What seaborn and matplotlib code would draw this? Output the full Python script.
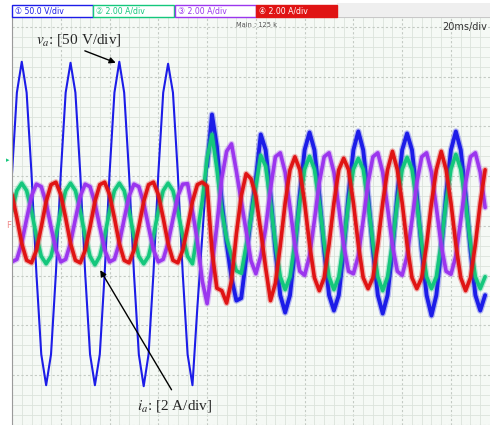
import numpy as np
import pandas as pd
import matplotlib
matplotlib.use("Agg")
import matplotlib.pyplot as plt
import seaborn as sns
from matplotlib.patches import Rectangle

# scope capture: 20 ms/div, one reading every 2 ms, values in divisions
t_ms = list(range(0, 196, 2))

# ch1 v_a (50 V/div)
v_a = [
    1.05, 2.68, 3.30, 2.68, 1.05, -0.95, -2.58, -3.20, -2.58, -0.95,
    1.05, 2.68, 3.28, 2.68, 1.05, -0.95, -2.58, -3.20, -2.58, -0.95,
    1.05, 2.68, 3.30, 2.68, 1.05, -0.95, -2.58, -3.22, -2.58, -0.95,
    1.05, 2.68, 3.26, 2.68, 1.05, -0.95, -2.58, -3.20, -1.64, -0.22,
    1.20, 2.24, 1.60, 0.50, -0.35, -1.04, -1.50, -1.45, -0.65, 0.20,
    0.95, 1.84, 1.53, 0.63, -0.49, -1.39, -1.74, -1.39, -0.49, 0.63,
    1.53, 1.88, 1.53, 0.63, -0.49, -1.39, -1.70, -1.39, -0.49, 0.63,
    1.53, 1.90, 1.53, 0.63, -0.49, -1.39, -1.76, -1.39, -0.49, 0.63,
    1.53, 1.86, 1.53, 0.63, -0.49, -1.39, -1.80, -1.39, -0.49, 0.63,
    1.53, 1.90, 1.53, 0.63, -0.49, -1.39, -1.70, -1.39,
]
# ch2 i_a (2 A/div)
i_a = [
    0.30, 0.71, 0.86, 0.71, 0.30, -0.20, -0.61, -0.76, -0.61, -0.20,
    0.30, 0.71, 0.86, 0.71, 0.30, -0.20, -0.61, -0.78, -0.61, -0.20,
    0.30, 0.71, 0.86, 0.71, 0.30, -0.20, -0.61, -0.76, -0.61, -0.20,
    0.30, 0.71, 0.86, 0.71, 0.30, -0.20, -0.61, -0.76, -0.16, 0.50,
    1.36, 1.84, 1.15, 0.30, -0.25, -0.60, -0.90, -0.95, -0.40, 0.16,
    0.80, 1.42, 1.20, 0.47, -0.35, -1.02, -1.28, -1.02, -0.35, 0.47,
    1.14, 1.40, 1.14, 0.47, -0.35, -1.02, -1.28, -1.02, -0.35, 0.47,
    1.14, 1.36, 1.14, 0.47, -0.35, -1.02, -1.30, -1.02, -0.35, 0.47,
    1.14, 1.38, 1.14, 0.47, -0.35, -1.02, -1.26, -1.02, -0.35, 0.47,
    1.14, 1.44, 1.14, 0.47, -0.35, -1.02, -1.26, -1.02,
]
# ch3 i_b
i_b = [
    -0.72, -0.67, -0.34, 0.14, 0.60, 0.84, 0.79, 0.46, -0.02, -0.48,
    -0.72, -0.67, -0.34, 0.14, 0.60, 0.84, 0.79, 0.46, -0.02, -0.48,
    -0.72, -0.67, -0.34, 0.14, 0.60, 0.84, 0.79, 0.46, -0.02, -0.48,
    -0.72, -0.67, -0.34, 0.14, 0.60, 0.84, 0.85, 0.30, -0.30, -1.10,
    -1.56, -0.80, 0.00, 0.95, 1.50, 1.65, 1.10, 0.50, -0.10, -0.70,
    -0.96, -0.60, -0.05, 0.75, 1.39, 1.47, 1.08, 0.37, -0.39, -0.91,
    -0.99, -0.60, 0.11, 0.87, 1.39, 1.47, 1.08, 0.37, -0.39, -0.91,
    -0.96, -0.60, 0.11, 0.87, 1.39, 1.47, 1.08, 0.37, -0.39, -0.91,
    -0.99, -0.60, 0.11, 0.87, 1.39, 1.47, 1.08, 0.37, -0.39, -0.91,
    -0.97, -0.60, 0.11, 0.87, 1.39, 1.47, 1.08, 0.37,
]
# ch4 i_c
i_c = [
    0.63, 0.16, -0.35, -0.69, -0.74, -0.49, -0.02, 0.49, 0.83, 0.88,
    0.63, 0.16, -0.35, -0.69, -0.74, -0.49, -0.02, 0.49, 0.83, 0.88,
    0.63, 0.16, -0.35, -0.69, -0.74, -0.49, -0.02, 0.49, 0.83, 0.88,
    0.63, 0.16, -0.35, -0.69, -0.74, -0.49, -0.02, 0.49, 0.83, 0.88,
    0.80, -0.50, -1.25, -1.30, -1.55, -1.10, -0.16, 0.60, 1.05, 0.95,
    0.60, -0.10, -0.84, -1.50, -1.15, -0.40, 0.46, 1.13, 1.39, 1.13,
    0.46, -0.37, -1.04, -1.30, -1.04, -0.37, 0.46, 1.13, 1.36, 1.13,
    0.46, -0.37, -1.04, -1.26, -1.04, -0.37, 0.46, 1.13, 1.50, 1.13,
    0.46, -0.37, -1.04, -1.26, -1.04, -0.37, 0.46, 1.13, 1.50, 1.13,
    0.46, -0.37, -1.04, -1.30, -1.04, -0.37, 0.46, 1.13,
]

ch_names = ["va", "ia", "ib", "ic"]
ch_labels = ["\u2460 50.0 V/div", "\u2461 2.00 A/div", "\u2462 2.00 A/div", "\u2463 2.00 A/div"]
ch_colors = ["#1c1ce8", "#14c77c", "#9b36ee", "#e01414"]

n = len(t_ms)
df = pd.DataFrame({
    "t": t_ms * 4,
    "v": v_a + i_a + i_b + i_c,
    "ch": sum([[c] * n for c in ch_names], []),
})

sns.set_style("white")
plt.rcParams["mathtext.fontset"] = "stix"
plt.rcParams["font.family"] = ["DejaVu Sans", "Noto Sans CJK JP"]

W, H = 490, 425
fig = plt.figure(figsize=(W / 100, H / 100), dpi=100, facecolor="white")
ax = fig.add_axes([12 / W, 0, (W - 12) / W, (H - 17) / H])
ax.set_facecolor("#f5f9f5")

# screen grid: 50 px per division
ax.set_xlim(1.6, 192.8)
ax.set_ylim(-4.0, 4.16)
ax.set_xticks(np.arange(0, 200, 20))
ax.set_xticks(np.arange(0, 200, 4), minor=True)
ax.set_yticks(np.arange(-4, 5, 1))
ax.set_yticks(np.arange(-4, 4.3, 0.2), minor=True)
ax.tick_params(which="both", length=0, labelbottom=False, labelleft=False)
ax.grid(which="minor", color="#dbe3db", lw=0.6)
ax.grid(which="major", color="#c3cac3", lw=0.8, ls=(0, (2, 2)))
ax.set_axisbelow(True)
for s in ["right", "bottom"]:
    ax.spines[s].set_visible(False)
ax.spines["left"].set_color("#9a9a9a")
ax.spines["top"].set_color("#c8c8c8")

# traces, ch1 at the bottom
va = df[df.ch == "va"]
sns.lineplot(data=va[va.t <= 80], x="t", y="v", color=ch_colors[0], lw=1.5,
             ax=ax, estimator=None, sort=False, legend=False)
after = va[va.t >= 80]
sns.lineplot(data=after, x="t", y="v", color=ch_colors[0], lw=4.6, alpha=0.3,
             ax=ax, estimator=None, sort=False, legend=False)
sns.lineplot(data=after, x="t", y="v", color=ch_colors[0], lw=2.8,
             ax=ax, estimator=None, sort=False, legend=False)
for name, col in zip(ch_names[1:], ch_colors[1:]):
    d = df[df.ch == name]
    sns.lineplot(data=d, x="t", y="v", color=col, lw=4.4, alpha=0.3,
                 ax=ax, estimator=None, sort=False, legend=False)
    sns.lineplot(data=d, x="t", y="v", color=col, lw=2.6,
                 ax=ax, estimator=None, sort=False, legend=False)
ax.set_xlabel("")
ax.set_ylabel("")

# annotations
ax.text(27.2, 3.74, r"$v_a$: [50 V/div]", fontsize=11, family="Liberation Serif",
        ha="center", va="center")
ax.annotate("", xy=(43.6, 3.26), xytext=(28.8, 3.54),
            arrowprops=dict(arrowstyle="-|>", color="black", lw=1, mutation_scale=9))
ax.text(66.8, -3.62, r"$i_a$: [2 A/div]", fontsize=11, family="Liberation Serif",
        ha="center", va="center")
ax.annotate("", xy=(35.6, -0.84), xytext=(66.0, -3.34),
            arrowprops=dict(arrowstyle="-|>", color="black", lw=1, mutation_scale=9))

# header bar with channel settings
fig.add_artist(Rectangle((337 / W, 1 - 17 / H), (W - 337) / W, 14 / H,
                         transform=fig.transFigure, color="#efefef", lw=0))
box_x = [12, 93, 175, 256]
for k, (lab, col) in enumerate(zip(ch_labels, ch_colors)):
    x0 = box_x[k]
    filled = k == 3
    fig.add_artist(Rectangle((x0 / W, 1 - 17 / H), 81 / W, 12 / H,
                             transform=fig.transFigure,
                             facecolor=col if filled else "white",
                             edgecolor=col, lw=1))
    fig.text((x0 + 3) / W, 1 - 11 / H, lab, color="white" if filled else col,
             fontsize=6.2, va="center", ha="left", fontstretch="condensed")

fig.text(257 / W, 1 - 25 / H, "Main : 125 k", fontsize=4.8, color="#555555",
         ha="center", va="center")
fig.text(487 / W, 1 - 27 / H, "20ms/div", fontsize=7, color="#333333",
         ha="right", va="center")
fig.text(9 / W, 1 - 225 / H, "F", fontsize=6, color="#f08a8a", ha="center", va="center")
fig.text(8 / W, 1 - 160 / H, "\u25b8", fontsize=5, color="#14c77c", ha="center", va="center")

fig.savefig("out.png", dpi=100)
